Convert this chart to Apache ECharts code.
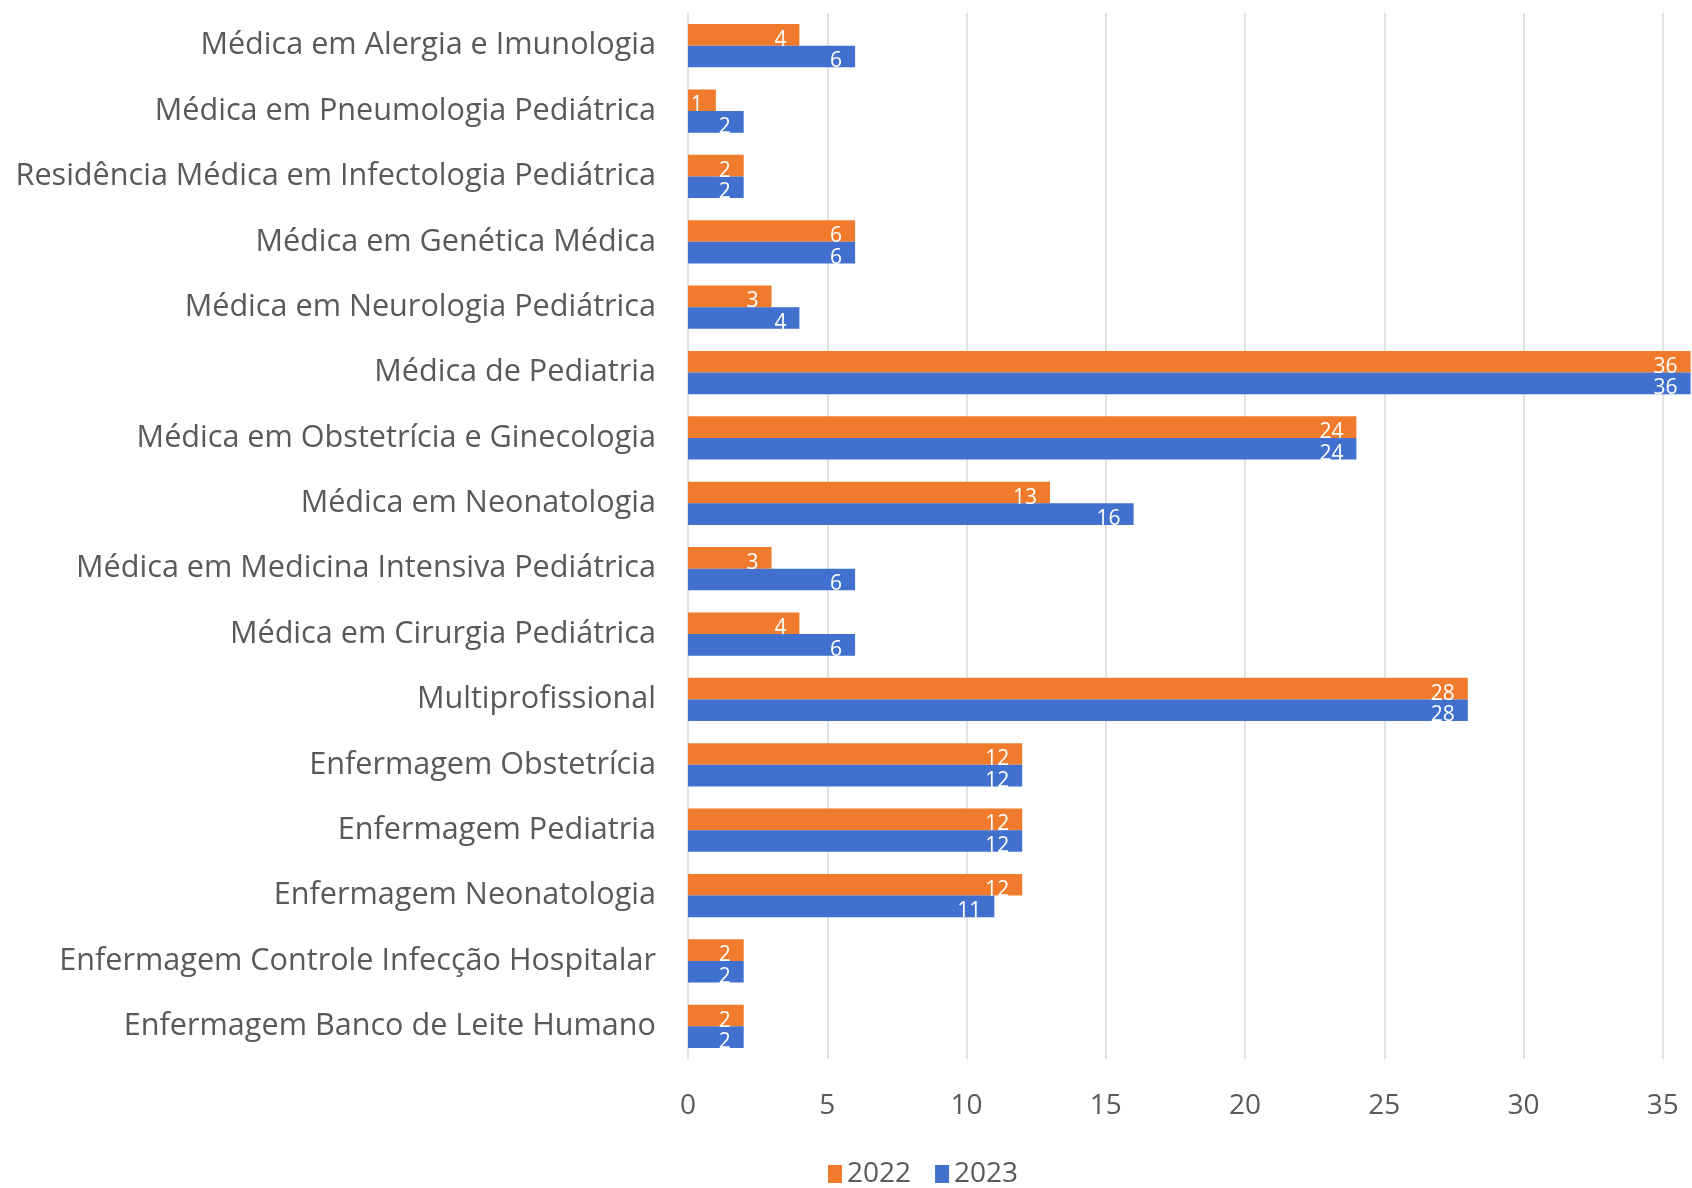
<!DOCTYPE html>
<html>
<head>
<meta charset="utf-8">
<script src="https://cdn.jsdelivr.net/npm/echarts@6/dist/echarts.min.js"></script>
<style>
  html, body { margin: 0; padding: 0; background: #fff; }
  #main { width: 1692px; height: 1188px; }
</style>
</head>
<body>
<div id="main"></div>
<script>
var categories = [
  'Médica em Alergia e Imunologia',
  'Médica em Pneumologia Pediátrica',
  'Residência Médica em Infectologia Pediátrica',
  'Médica em Genética Médica',
  'Médica em Neurologia Pediátrica',
  'Médica de Pediatria',
  'Médica em Obstetrícia e Ginecologia',
  'Médica em Neonatologia',
  'Médica em Medicina Intensiva Pediátrica',
  'Médica em Cirurgia Pediátrica',
  'Multiprofissional',
  'Enfermagem Obstetrícia',
  'Enfermagem Pediatria',
  'Enfermagem Neonatologia',
  'Enfermagem Controle Infecção Hospitalar',
  'Enfermagem Banco de Leite Humano'
];
var values2022 = [4, 1, 2, 6, 3, 36, 24, 13, 3, 4, 28, 12, 12, 12, 2, 2];
var values2023 = [6, 2, 2, 6, 4, 36, 24, 16, 6, 6, 28, 12, 12, 11, 2, 2];

var myChart = echarts.init(document.getElementById('main'));

var textFont = 'Open Sans';
var textColor = '#595959';

function barLabel() {
  return {
    show: true,
    position: 'insideRight',
    distance: 13,
    offset: [0, 5],
    color: '#fff',
    fontFamily: textFont,
    fontSize: 21
  };
}

var option = {
  animation: false,
  grid: {
    left: 688,
    width: 1114,
    top: 13,
    bottom: 129,
    outerBoundsMode: 'none',
    containLabel: false
  },
  legend: {
    left: 823,
    top: 1155,
    icon: 'rect',
    itemWidth: 14,
    itemHeight: 18,
    itemGap: 24,
    textStyle: {
      color: textColor,
      fontFamily: textFont,
      fontSize: 28
    },
    data: ['2022', '2023']
  },
  xAxis: {
    type: 'value',
    min: 0,
    max: 40,
    interval: 5,
    axisLine: { show: false },
    axisTick: { show: false },
    splitLine: { lineStyle: { color: '#d9d9d9', width: 1.5 } },
    axisLabel: {
      color: textColor,
      fontFamily: textFont,
      fontSize: 28,
      margin: 33
    }
  },
  yAxis: {
    type: 'category',
    inverse: true,
    data: categories,
    axisLine: { show: false },
    axisTick: { show: false },
    axisLabel: {
      color: textColor,
      fontFamily: textFont,
      fontSize: 30.6,
      margin: 32
    }
  },
  series: [
    {
      name: '2022',
      type: 'bar',
      color: '#F07B2C',
      barGap: '0%',
      barCategoryGap: '34%',
      label: barLabel(),
      data: values2022
    },
    {
      name: '2023',
      type: 'bar',
      color: '#4170CF',
      barGap: '0%',
      barCategoryGap: '34%',
      label: barLabel(),
      data: values2023
    }
  ]
};

myChart.setOption(option);
</script>
</body>
</html>
